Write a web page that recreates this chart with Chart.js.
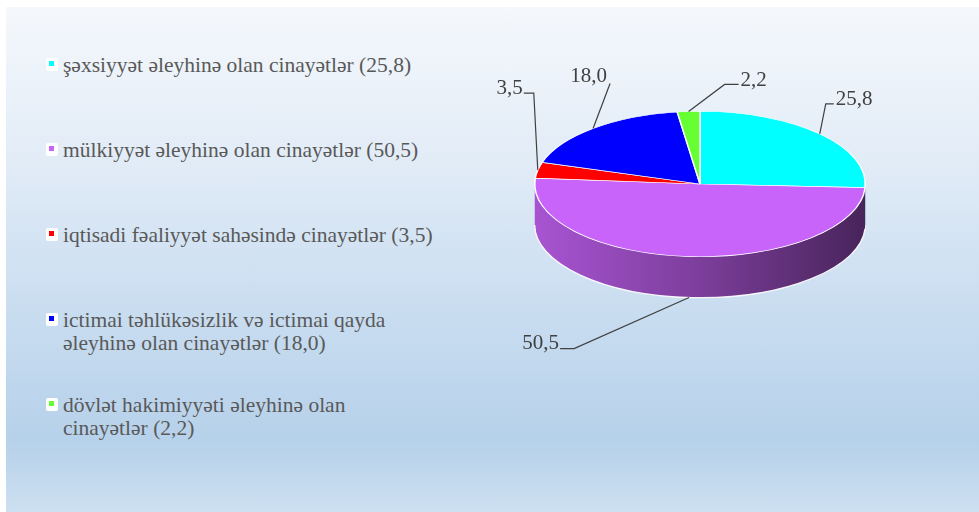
<!DOCTYPE html>
<html><head><meta charset="utf-8">
<script src="https://cdn.jsdelivr.net/npm/chart.js@4.4.0/dist/chart.umd.min.js"></script>
<style>
html,body{margin:0;padding:0;width:979px;height:512px;overflow:hidden;background:#fff;}
#panel{position:absolute;left:6px;top:7px;width:973px;height:505px;
  background:linear-gradient(to bottom,#f5f8fc 0%,#e2ecf7 30%,#c9ddf0 60%,#b6d1ea 86%,#cde0f1 100%);}
#c{position:absolute;left:0;top:0;}
#legend{position:absolute;left:0;top:0;font-family:"Liberation Serif",serif;font-size:21.5px;color:#595959;line-height:23px;}
.item{position:absolute;left:63px;white-space:pre;}
.mk{position:absolute;left:-17px;top:4px;width:12px;height:13px;background:#fff;border-radius:2px;}
.mk i{position:absolute;left:3px;top:3px;width:5px;height:5px;}
</style></head>
<body>
<div id="panel"></div>
<div id="legend"></div>
<canvas id="c" width="979" height="512"></canvas>
<script>
// ---- data ----
const categories = [
  "şəxsiyyət əleyhinə olan cinayətlər",
  "mülkiyyət əleyhinə olan cinayətlər",
  "iqtisadi fəaliyyət sahəsində cinayətlər",
  "ictimai təhlükəsizlik və ictimai qayda\nəleyhinə olan cinayətlər",
  "dövlət hakimiyyəti əleyhinə olan\ncinayətlər"
];
const values = [25.8, 50.5, 3.5, 18.0, 2.2];
const colors = ["#00ffff", "#c864fa", "#ff0000", "#0000ff", "#66ff33"];

// ---- style ----
const K = 0.44;          // vertical squash of the pie
const DEPTH = 41;        // side height in px
const leader = [         // elbow offset from slice anchor, horizontal tail length
  {dx: 6,   dy: -30, h: 8},
  {dx: -115,dy: 51,  h: -14},
  {dx: -4,  dy: -77, h: -10},
  {dx: 17,  dy: -45, h: 0},
  {dx: 36,  dy: -27, h: 14}
];
const fmt = v => v.toFixed(1).replace('.', ',');

// legend (HTML)
const leg = document.getElementById('legend');
categories.forEach((c, i) => {
  const d = document.createElement('div');
  d.className = 'item';
  d.style.top = (65 + i * 85 - 11.5) + 'px';
  d.textContent = c + ' (' + fmt(values[i]) + ')';
  const m = document.createElement('span');
  m.className = 'mk';
  const inner = document.createElement('i');
  inner.style.background = colors[i];
  m.appendChild(inner);
  d.appendChild(m);
  leg.appendChild(d);
});

function shade(hex, f) {
  const n = parseInt(hex.slice(1), 16);
  const r = Math.round(((n >> 16) & 255) * f), g = Math.round(((n >> 8) & 255) * f), b = Math.round((n & 255) * f);
  return `rgb(${r},${g},${b})`;
}

const pie3d = {
  id: 'pie3d',
  beforeDatasetsDraw(chart) {
    const ctx = chart.ctx;
    const meta = chart.getDatasetMeta(0);
    const a0 = meta.data[0];
    const cx = a0.x, cy = a0.y, r = a0.outerRadius, ry = r * K;
    meta.data.forEach((arc, i) => {
      const s = Math.max(arc.startAngle, 0), e = Math.min(arc.endAngle, Math.PI);
      if (e <= s) return;
      ctx.save();
      ctx.beginPath();
      ctx.ellipse(cx, cy, r, ry, 0, s, e, false);
      ctx.lineTo(cx + r * Math.cos(e), cy + ry * Math.sin(e) + DEPTH);
      ctx.ellipse(cx, cy + DEPTH, r, ry, 0, e, s, true);
      ctx.closePath();
      const g = ctx.createLinearGradient(cx - r, 0, cx + r, 0);
      g.addColorStop(0, shade(colors[i], 0.84));
      g.addColorStop(0.5, shade(colors[i], 0.62));
      g.addColorStop(1, shade(colors[i], 0.36));
      ctx.fillStyle = g;
      ctx.fill();
      ctx.beginPath();
      ctx.ellipse(cx, cy + DEPTH, r, ry, 0, s, e, false);
      ctx.strokeStyle = 'rgba(255,255,255,0.9)';
      ctx.lineWidth = 1.3;
      ctx.stroke();
      ctx.restore();
    });
    ctx.save();
    ctx.translate(cx, cy);
    ctx.scale(1, K);
    ctx.translate(-cx, -cy);
  },
  afterDatasetsDraw(chart) {
    const ctx = chart.ctx;
    ctx.restore();
    const meta = chart.getDatasetMeta(0);
    ctx.save();
    ctx.font = '21px "Liberation Serif"';
    ctx.fillStyle = '#404040';
    ctx.strokeStyle = '#404040';
    ctx.lineWidth = 1.2;
    ctx.textBaseline = 'middle';
    meta.data.forEach((arc, i) => {
      const cx = arc.x, cy = arc.y, r = arc.outerRadius, ry = r * K;
      const m = (arc.startAngle + arc.endAngle) / 2;
      const ax = cx + r * Math.cos(m);
      let ay = cy + ry * Math.sin(m);
      if (Math.sin(m) > 0) ay += DEPTH;
      const L = leader[i];
      const ex = ax + L.dx, ey = ay + L.dy;
      ctx.beginPath();
      ctx.moveTo(ax, ay);
      ctx.lineTo(ex, ey);
      ctx.lineTo(ex + L.h, ey);
      ctx.stroke();
      const txt = fmt(values[i]);
      if (L.h > 0) { ctx.textAlign = 'left'; ctx.fillText(txt, ex + L.h + 2, ey - 4); }
      else if (L.h < 0) { ctx.textAlign = 'right'; ctx.fillText(txt, ex + L.h - 1, ey - 5); }
      else { ctx.textAlign = 'right'; ctx.fillText(txt, ex - 3, ey - 7); }
    });
    ctx.restore();
  }
};

new Chart(document.getElementById('c'), {
  type: 'pie',
  data: {
    labels: categories,
    datasets: [{
      data: values,
      backgroundColor: colors,
      borderColor: '#ffffff',
      borderWidth: 1.5
    }]
  },
  options: {
    responsive: false,
    animation: false,
    clip: false,
    layout: { padding: { left: 534, right: 113, top: 18, bottom: 162 } },
    plugins: { legend: { display: false }, tooltip: { enabled: false } },
    events: []
  },
  plugins: [pie3d]
});
</script>
</body></html>
